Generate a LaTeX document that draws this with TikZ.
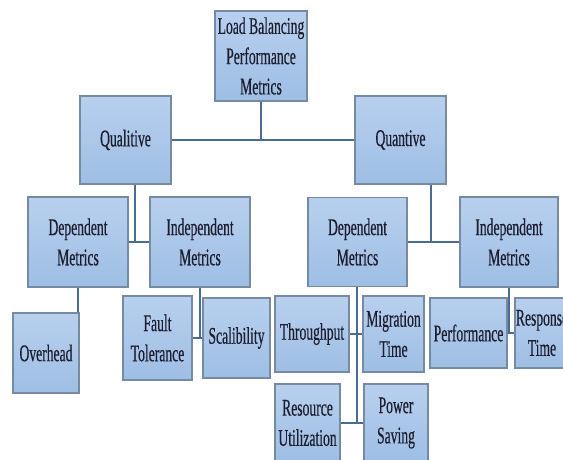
\documentclass[tikz,border=0pt]{standalone}
\usepackage{fontspec}
\newfontfamily\boxfont[FakeStretch=0.57,FakeBold=0.4]{Liberation Serif}
\usepackage{tikz}
\usetikzlibrary{calc}

\definecolor{boxtop}{RGB}{184,208,238}
\definecolor{boxbottom}{RGB}{158,190,228}
\definecolor{boxedge}{RGB}{118,138,162}
\definecolor{linkblue}{RGB}{72,108,148}
\definecolor{inktext}{RGB}{28,30,48}

\begin{document}
\begin{tikzpicture}[
    x=0.025cm, y=-0.025cm,
    box/.style={draw=boxedge, line width=0.9pt, top color=boxtop, bottom color=boxbottom, align=center, inner sep=0pt, text=inktext, font=\boxfont\fontsize{17}{21.5}\selectfont},
    link/.style={draw=linkblue, line width=1.3pt}
]
    \useasboundingbox (0,0) rectangle (563,459);
    \clip (0,0) rectangle (563,459);

    % Top levels
    \node[box, minimum width=2.3cm, minimum height=2.25cm] (root) at (261,56) {Load Balancing\\Performance\\Metrics};
    \node[box, minimum width=2.275cm, minimum height=2.2cm] (qual) at (125.5,140) {Qualitive};
    \node[box, minimum width=2.275cm, minimum height=2.2cm] (quant) at (400.5,140) {Quantive};

    \draw[link] (qual.east) -- (quant.west);
    \draw[link] (root.south) -- (root.south |- qual.east);

    % Qualitive branch
    \node[box, minimum width=2.5cm, minimum height=2.25cm] (ldep) at (78,242) {Dependent\\Metrics};
    \node[box, minimum width=2.5cm, minimum height=2.25cm] (lind) at (200,242) {Independent\\Metrics};
    \node[box, minimum width=1.65cm, minimum height=2.0cm] (over) at (46,353) {Overhead};
    \node[box, minimum width=1.725cm, minimum height=2.1cm] (fault) at (157.5,338) {Fault\\Tolerance};
    \node[box, minimum width=1.675cm, minimum height=2.0cm] (scal) at (236.5,338) {Scalibility};

    \coordinate (qj) at (135,242);
    \draw[link] (ldep.east) -- (lind.west);
    \draw[link] (qj |- qual.south) -- (qj);
    \draw[link] (ldep.south) -- (ldep.south |- over.north);
    \draw[link] (fault.east) -- (scal.west);
    \draw[link] (lind.south) -- (lind.south |- fault.east);

    % Quantive branch
    \node[box, minimum width=2.475cm, minimum height=2.225cm] (rdep) at (357.5,242) {Dependent\\Metrics};
    \node[box, minimum width=2.45cm, minimum height=2.25cm] (rind) at (509,242) {Independent\\Metrics};
    \node[box, minimum width=1.85cm, minimum height=1.9cm] (thru) at (312,334) {Throughput};
    \node[box, minimum width=1.525cm, minimum height=1.9cm] (migr) at (393.5,334) {Migration\\Time};
    \node[box, minimum width=1.625cm, minimum height=1.95cm] (res) at (307.5,423) {Resource\\Utilization};
    \node[box, minimum width=1.6cm, minimum height=1.95cm] (power) at (396,423) {Power\\Saving};
    \node[box, minimum width=1.925cm, minimum height=1.75cm] (perf) at (468.5,333) {Performance};
    \node[box, minimum width=1.35cm, minimum height=1.75cm] (resp) at (542,333) {Response\\Time};

    \coordinate (nj) at (431,242);
    \coordinate (dj) at (357,423);
    \draw[link] (rdep.east) -- (rind.west);
    \draw[link] (nj |- quant.south) -- (nj);
    \draw[link] (thru.east) -- (migr.west);
    \draw[link] (res.east) -- (power.west);
    \draw[link] (dj |- rdep.south) -- (dj);
    \draw[link] (perf.east) -- (resp.west);
    \draw[link] (rind.south) -- (rind.south |- perf.east);
\end{tikzpicture}
\end{document}
